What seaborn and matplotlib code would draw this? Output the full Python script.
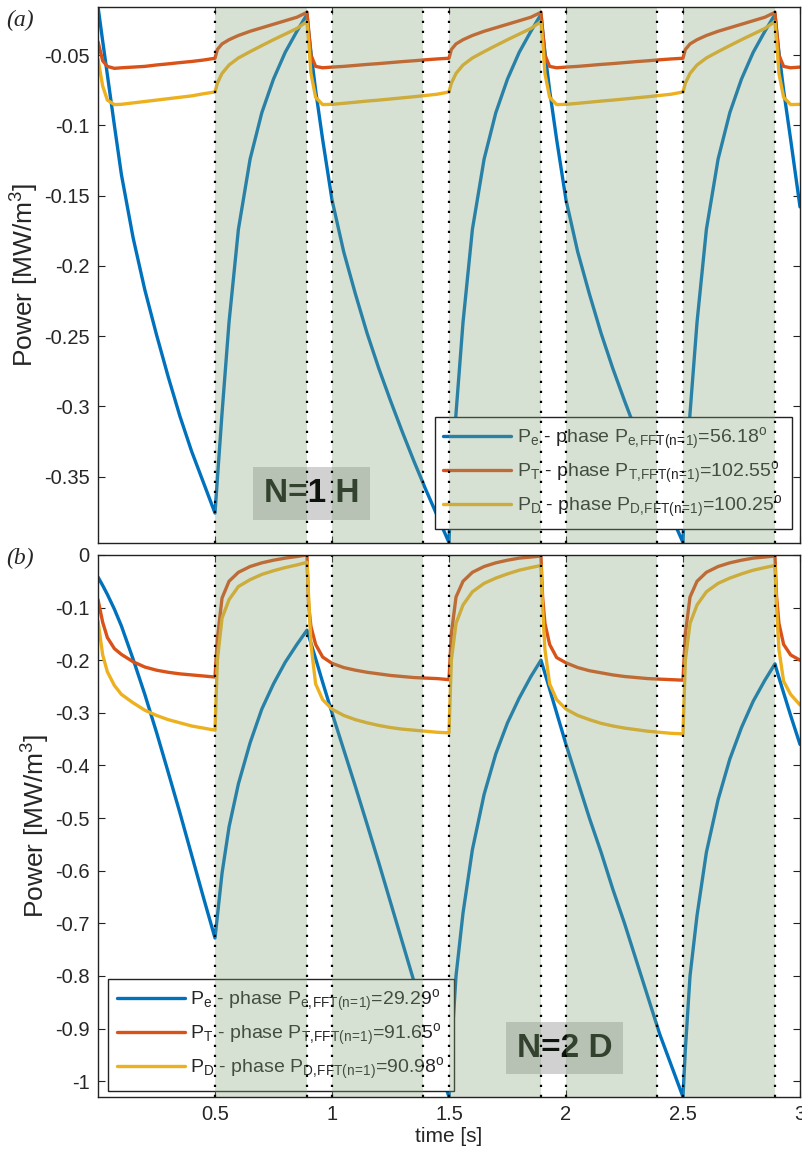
import matplotlib
matplotlib.use('Agg')
import matplotlib.pyplot as plt
import numpy as np
import pandas as pd
import seaborn as sns

# Style: MATLAB-like look
sns.set_style('ticks')
plt.rcParams['font.family'] = ['Liberation Sans', 'DejaVu Sans']
plt.rcParams['mathtext.default'] = 'regular'

# Time grid (s), shared by both panels
time_s = [0, 0.02, 0.04, 0.07, 0.1, 0.15, 0.2, 0.25, 0.3, 0.35, 0.4, 0.45,
          0.5, 0.51, 0.53, 0.56, 0.6, 0.65, 0.7, 0.75, 0.8, 0.85, 0.893,
          0.9, 0.91, 0.93, 0.96, 1.0, 1.05, 1.1, 1.15, 1.2, 1.25, 1.3, 1.35, 1.4, 1.45,
          1.5, 1.51, 1.53, 1.56, 1.6, 1.65, 1.7, 1.75, 1.8, 1.85, 1.893,
          1.9, 1.91, 1.93, 1.96, 2.0, 2.05, 2.1, 2.15, 2.2, 2.25, 2.3, 2.35, 2.4, 2.45,
          2.5, 2.51, 2.53, 2.56, 2.6, 2.65, 2.7, 2.75, 2.8, 2.85, 2.893,
          2.9, 2.91, 2.93, 2.96, 3.0]

# (a) N=1 H  [MW/m^3]
pe_top = [-0.0155, -0.04, -0.064, -0.1, -0.135, -0.18, -0.217, -0.249, -0.279, -0.307, -0.332, -0.354,
          -0.376, -0.352, -0.305, -0.240, -0.174, -0.124, -0.091, -0.067, -0.048, -0.033, -0.021,
          -0.033, -0.048, -0.075, -0.11, -0.153, -0.19, -0.22, -0.248, -0.273, -0.296, -0.318, -0.339, -0.359, -0.378,
          -0.397, -0.352, -0.305, -0.240, -0.174, -0.124, -0.091, -0.067, -0.048, -0.033, -0.021,
          -0.033, -0.048, -0.075, -0.11, -0.153, -0.19, -0.22, -0.248, -0.273, -0.296, -0.318, -0.339, -0.359, -0.378,
          -0.397, -0.352, -0.305, -0.240, -0.174, -0.124, -0.091, -0.067, -0.048, -0.033, -0.021,
          -0.033, -0.048, -0.075, -0.11, -0.158]
pt_top = [-0.0404, -0.054, -0.058, -0.0594, -0.059, -0.0585, -0.058, -0.057, -0.0562, -0.0553, -0.0545, -0.0535,
          -0.0522, -0.046, -0.042, -0.039, -0.036, -0.033, -0.0305, -0.028, -0.0255, -0.023, -0.0195,
          -0.032, -0.05, -0.058, -0.059, -0.0585, -0.058, -0.0573, -0.0566, -0.056, -0.0553, -0.0546, -0.054, -0.0533, -0.0527,
          -0.0522, -0.046, -0.042, -0.039, -0.036, -0.033, -0.0305, -0.028, -0.0255, -0.023, -0.0195,
          -0.032, -0.05, -0.058, -0.059, -0.0585, -0.058, -0.0573, -0.0566, -0.056, -0.0553, -0.0546, -0.054, -0.0533, -0.0527,
          -0.0522, -0.046, -0.042, -0.039, -0.036, -0.033, -0.0305, -0.028, -0.0255, -0.023, -0.0195,
          -0.032, -0.05, -0.058, -0.059, -0.0585]
pd_top = [-0.053, -0.072, -0.082, -0.0852, -0.085, -0.084, -0.083, -0.082, -0.081, -0.080, -0.079, -0.0775,
          -0.0762, -0.07, -0.063, -0.057, -0.052, -0.0475, -0.0432, -0.039, -0.035, -0.031, -0.026,
          -0.04, -0.063, -0.08, -0.0852, -0.085, -0.0843, -0.0835, -0.0827, -0.082, -0.0812, -0.0804, -0.0796, -0.0787, -0.0778,
          -0.0762, -0.07, -0.063, -0.057, -0.052, -0.0475, -0.0432, -0.039, -0.035, -0.031, -0.026,
          -0.04, -0.063, -0.08, -0.0852, -0.085, -0.0843, -0.0835, -0.0827, -0.082, -0.0812, -0.0804, -0.0796, -0.0787, -0.0778,
          -0.0762, -0.07, -0.063, -0.057, -0.052, -0.0475, -0.0432, -0.039, -0.035, -0.031, -0.026,
          -0.04, -0.063, -0.08, -0.0852, -0.085]

# (b) N=2 D  [MW/m^3]
pe_bot = [-0.042, -0.058, -0.075, -0.103, -0.135, -0.198, -0.265, -0.337, -0.413, -0.49, -0.57, -0.65,
          -0.728, -0.687, -0.605, -0.517, -0.435, -0.357, -0.293, -0.245, -0.204, -0.170, -0.143,
          -0.153, -0.168, -0.197, -0.242, -0.30, -0.37, -0.44, -0.512, -0.585, -0.66, -0.735, -0.81, -0.885, -0.96,
          -1.03, -0.94, -0.80, -0.68, -0.56, -0.455, -0.378, -0.319, -0.272, -0.231, -0.2,
          -0.21, -0.225, -0.255, -0.3, -0.36, -0.43, -0.5, -0.565, -0.635, -0.70, -0.77, -0.84, -0.91, -0.97,
          -1.03, -0.94, -0.80, -0.685, -0.565, -0.465, -0.388, -0.328, -0.278, -0.238, -0.207,
          -0.218, -0.233, -0.262, -0.305, -0.36]
pt_bot = [-0.085, -0.128, -0.157, -0.178, -0.189, -0.203, -0.213, -0.219, -0.223, -0.226, -0.228, -0.23,
          -0.232, -0.16, -0.082, -0.05, -0.033, -0.022, -0.015, -0.01, -0.006, -0.003, 0.0,
          -0.095, -0.136, -0.17, -0.194, -0.206, -0.214, -0.219, -0.223, -0.226, -0.229, -0.231, -0.233, -0.234, -0.235,
          -0.237, -0.15, -0.08, -0.05, -0.033, -0.022, -0.015, -0.01, -0.006, -0.004, -0.002,
          -0.08, -0.13, -0.17, -0.195, -0.205, -0.214, -0.22, -0.224, -0.228, -0.231, -0.233, -0.235, -0.236, -0.237,
          -0.238, -0.15, -0.08, -0.05, -0.033, -0.022, -0.015, -0.01, -0.006, -0.004, -0.002,
          -0.08, -0.13, -0.17, -0.19, -0.2]
pd_bot = [-0.126, -0.19, -0.222, -0.248, -0.265, -0.281, -0.295, -0.305, -0.313, -0.319, -0.325, -0.329,
          -0.333, -0.2, -0.12, -0.085, -0.06, -0.047, -0.037, -0.03, -0.024, -0.019, -0.014,
          -0.08, -0.17, -0.245, -0.275, -0.293, -0.305, -0.313, -0.319, -0.324, -0.328, -0.331, -0.333, -0.335, -0.337,
          -0.338, -0.2, -0.13, -0.095, -0.07, -0.054, -0.044, -0.036, -0.029, -0.024, -0.02,
          -0.1, -0.18, -0.245, -0.275, -0.293, -0.305, -0.313, -0.32, -0.325, -0.329, -0.332, -0.335, -0.337, -0.339,
          -0.34, -0.2, -0.13, -0.095, -0.07, -0.054, -0.044, -0.036, -0.029, -0.024, -0.02,
          -0.1, -0.18, -0.24, -0.265, -0.285]

series_names = ['Pe', 'PT', 'PD']
line_colors = ['#0072BD', '#D95319', '#EDB120']

# Shaded intervals / dotted markers (s)
shade_start = [0.5, 1.0, 1.5, 2.0, 2.5]
shade_end = [0.893, 1.39, 1.893, 2.39, 2.893]

legend_top = [r'P$_e$ - phase P$_{e,\!FFT(n\!=\!1)}$=56.18$^o$',
              r'P$_T$ - phase P$_{T,\!FFT(n\!=\!1)}$=102.55$^o$',
              r'P$_D$ - phase P$_{D,\!FFT(n\!=\!1)}$=100.25$^o$']
legend_bot = [r'P$_e$ - phase P$_{e,\!FFT(n\!=\!1)}$=29.29$^o$',
              r'P$_T$ - phase P$_{T,\!FFT(n\!=\!1)}$=91.65$^o$',
              r'P$_D$ - phase P$_{D,\!FFT(n\!=\!1)}$=90.98$^o$']

ticks_top = [-0.35, -0.3, -0.25, -0.2, -0.15, -0.1, -0.05]
ticklabels_top = ['-0.35', '-0.3', '-0.25', '-0.2', '-0.15', '-0.1', '-0.05']
ticks_bot = [-1, -0.9, -0.8, -0.7, -0.6, -0.5, -0.4, -0.3, -0.2, -0.1, 0]
ticklabels_bot = ['-1', '-0.9', '-0.8', '-0.7', '-0.6', '-0.5', '-0.4', '-0.3', '-0.2', '-0.1', '0']
xticks = [0.5, 1, 1.5, 2, 2.5, 3]
xticklabels = ['0.5', '1', '1.5', '2', '2.5', '3']

fig = plt.figure(figsize=(8.02, 11.53), dpi=100)
ax1 = fig.add_axes([0.1222, 0.5288, 0.8753, 0.4654])
ax2 = fig.add_axes([0.1222, 0.0486, 0.8753, 0.4701])


def draw_panel(ax, pe, pt, pd_, labels, leg_loc, leg_anchor, tag, tag_xy, ylim, yticks, yticklabels):
    df = pd.DataFrame({
        'time': time_s * 3,
        'power': pe + pt + pd_,
        'series': np.repeat(series_names, len(time_s)),
    })
    sns.lineplot(data=df, x='time', y='power', hue='series', palette=line_colors,
                 linewidth=2.4, estimator=None, sort=False, legend=False, ax=ax)

    leg = ax.legend(ax.get_lines()[:3], labels, loc=leg_loc, bbox_to_anchor=leg_anchor,
                    borderaxespad=0, fontsize=14, handlelength=3.5, handletextpad=0.3,
                    labelspacing=0.4, borderpad=0.45, frameon=True, fancybox=False,
                    framealpha=1, edgecolor='#222222')
    leg.get_frame().set_linewidth(1.0)
    leg.set_zorder(5)

    ax.text(tag_xy[0], tag_xy[1], tag, ha='center', va='center', fontsize=24,
            fontweight='bold', color='#0d140d', zorder=6,
            bbox=dict(boxstyle='square,pad=0.32', facecolor=(0.39, 0.39, 0.39, 0.29),
                      edgecolor='none'))

    # green shading drawn over curves and legend, then dotted markers
    for s, e in zip(shade_start, shade_end):
        ax.axvspan(s, e, facecolor=(0.52, 0.64, 0.47), alpha=0.32, edgecolor='none', zorder=7)
    for x in shade_start + shade_end:
        ax.axvline(x, color='black', linestyle=(0, (1, 3.5)), linewidth=1.6, zorder=8)

    ax.set_xlim(0, 3)
    ax.set_ylim(*ylim)
    ax.set_xticks(xticks)
    ax.set_yticks(yticks)
    ax.set_yticklabels(yticklabels)
    ax.tick_params(direction='in', top=True, right=True, length=5, width=0.8,
                   labelsize=14.5, color='#222222', pad=6)
    for sp in ax.spines.values():
        sp.set_linewidth(1.0)
        sp.set_color('#222222')
        sp.set_zorder(10)
    ax.set_ylabel('Power [MW/m$^3$]', fontsize=19, labelpad=2)
    ax.set_xlabel('')


draw_panel(ax1, pe_top, pt_top, pd_top, legend_top, 'lower right', (0.988, 0.027),
           'N=1 H', (0.912, -0.362), (-0.3975, -0.0155), ticks_top, ticklabels_top)
draw_panel(ax2, pe_bot, pt_bot, pd_bot, legend_bot, 'lower left', (0.014, 0.011),
           'N=2 D', (1.994, -0.937), (-1.03, 0.0), ticks_bot, ticklabels_bot)

ax1.set_xticklabels([])
ax2.set_xticklabels(xticklabels)
ax2.set_xlabel('time [s]', fontsize=15, labelpad=2)

fig.text(0.008, 1 - 20 / 1153, '(a)', family='Liberation Serif', style='italic',
         fontsize=17, va='center', ha='left')
fig.text(0.008, 1 - 558 / 1153, '(b)', family='Liberation Serif', style='italic',
         fontsize=17, va='center', ha='left')

fig.savefig('out.png', dpi=100, facecolor='white')
